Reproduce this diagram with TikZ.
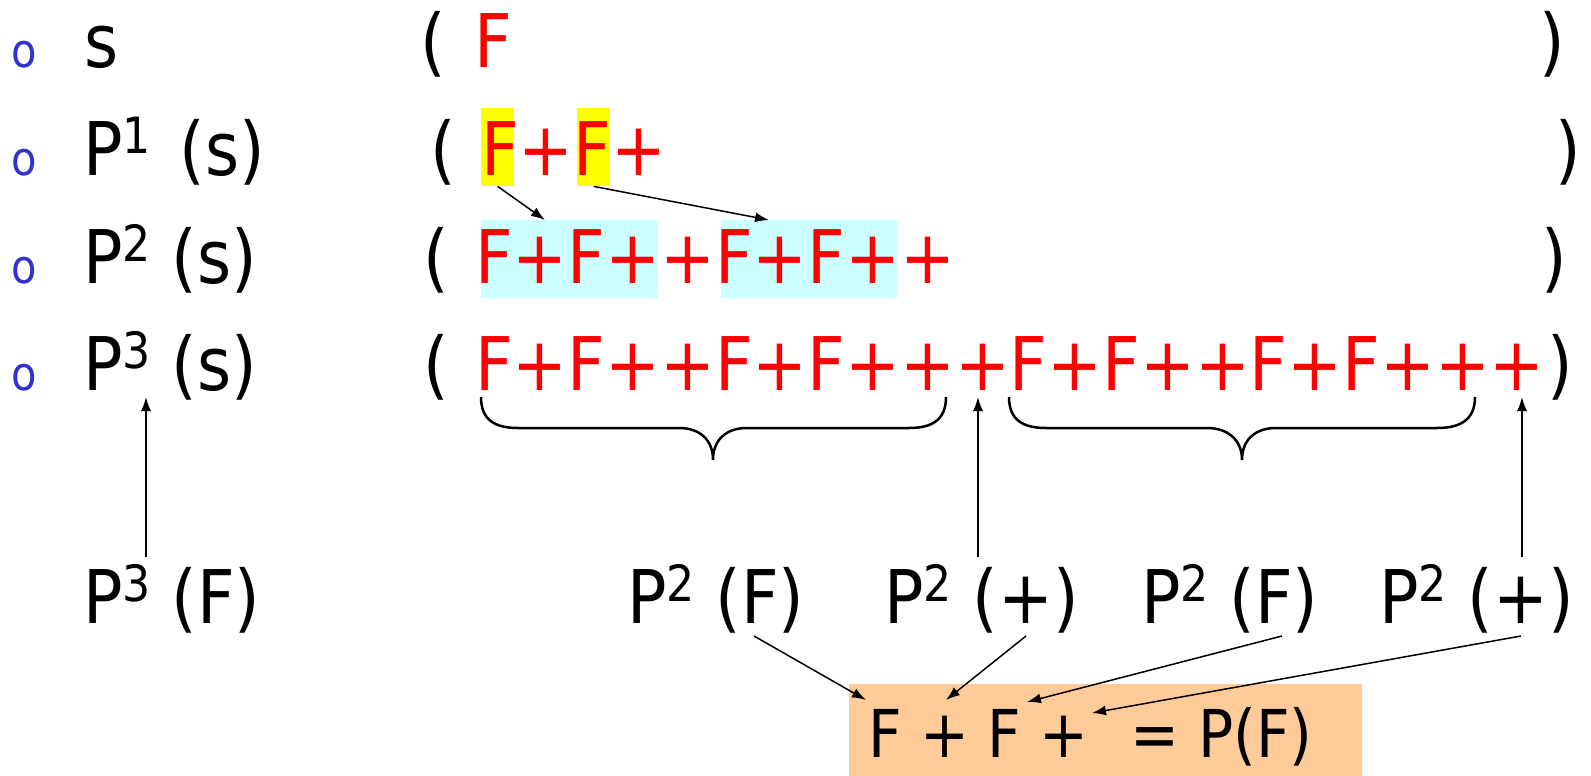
\documentclass[tikz,border=0pt]{standalone}
\usepackage{fontspec}
\setmainfont{DejaVu Sans}[FakeStretch=0.885]
\usetikzlibrary{arrows.meta}
\definecolor{bulletblue}{RGB}{51,51,204}
\definecolor{hlyellow}{RGB}{255,255,0}
\definecolor{hlcyan}{RGB}{204,255,255}
\definecolor{boxorange}{RGB}{255,204,153}
\definecolor{strred}{RGB}{255,0,0}
\newcommand\supnum[1]{\raisebox{22pt}{\fontsize{50}{50}\selectfont #1}}
\begin{document}
\begin{tikzpicture}[x=1pt,y=-1pt,
  txt/.style={inner sep=0pt, anchor=base west, font=\fontsize{74}{80}\selectfont},
  redtxt/.style={txt, text=strred},
  bul/.style={inner sep=0pt, anchor=base west, text=bulletblue, font=\fontsize{47}{47}\selectfont},
  hl/.style={inner sep=0pt, draw=none, anchor=north west},
  arr/.style={-{Latex[length=14pt,width=10pt]}, line width=1.5pt},
  brace/.style={line width=2.5pt}
]
\useasboundingbox (0,0) rectangle (1591,776);
% highlights
\node[hl, fill=hlyellow, minimum width=33pt, minimum height=78pt] (y1) at (481,108) {};
\node[hl, fill=hlyellow, minimum width=33pt, minimum height=78pt] (y2) at (577,108) {};
\node[hl, fill=hlcyan, minimum width=177pt, minimum height=78pt] (c1) at (481,220) {};
\node[hl, fill=hlcyan, minimum width=176pt, minimum height=78pt] (c2) at (721,220) {};
\node[hl, fill=boxorange, minimum width=513pt, minimum height=92pt] (box) at (849,684) {};
% bullets
\node[bul] (o1) at (11,68) {o};
\node[bul] (o2) at (11,175) {o};
\node[bul] (o3) at (11,283) {o};
\node[bul] (o4) at (11,390) {o};
% row labels
\node[txt] (l1) at (84,68) {s};
\node[txt] (l2) at (83,175) {P\supnum{1}\hspace{8pt} (s)};
\node[txt] (l3) at (83,283) {P\supnum{2} (s)};
\node[txt] (l4) at (83,390) {P\supnum{3} (s)};
% parentheses
\node[txt] (op1) at (420,68) {(};
\node[txt] (op2) at (430,175) {(};
\node[txt] (op3) at (423,283) {(};
\node[txt] (op4) at (423,390) {(};
\node[txt] (cp1) at (1539,68) {)};
\node[txt] (cp2) at (1555,175) {)};
\node[txt] (cp3) at (1541,283) {)};
\node[txt] (cp4) at (1547,390) {)};
% strings
\node[redtxt] (s1) at (474,68) {F};
\node[redtxt] (s2) at (481,175) {F+F+};
\node[redtxt] (s3) at (475,283) {F+F++F+F++};
\node[redtxt] (s4) at (475,390) {F+F++F+F+++F+F++F+F+++};
% bottom labels
\node[txt] (b1) at (83,623) {P\supnum{3} (F)};
\node[txt] (b2) at (627,623) {P\supnum{2} (F)};
\node[txt] (b3) at (884,623) {P\supnum{2} (+)};
\node[txt] (b4) at (1141,623) {P\supnum{2} (F)};
\node[txt] (b5) at (1379,623) {P\supnum{2} (+)};
\node[inner sep=0pt, anchor=base west, font=\fontsize{66}{72}\selectfont] (bt) at (868,757) {F + F +\hspace{23pt} = P(F)};
% braces
\draw[brace] (481,397) .. controls (481,420) and (495,428) .. (518,428) -- (679,428)
  .. controls (700,428) and (713,440) .. (713,460)
  .. controls (713,440) and (726,428) .. (747,428) -- (909,428)
  .. controls (932,428) and (946,420) .. (946,397);
\draw[brace] (1009,397) .. controls (1009,420) and (1023,428) .. (1046,428) -- (1207,428)
  .. controls (1228,428) and (1242,440) .. (1242,460)
  .. controls (1242,440) and (1255,428) .. (1276,428) -- (1437,428)
  .. controls (1460,428) and (1475,420) .. (1475,397);
% coordinates
\coordinate (c1t) at (545,220);
\coordinate (c2t) at (769,220);
\coordinate (u1a) at (146,557); \coordinate (u1b) at (146,397);
\coordinate (u2a) at (978,557); \coordinate (u2b) at (978,397);
\coordinate (u3a) at (1522,557); \coordinate (u3b) at (1522,397);
\coordinate (d1a) at (754,636); \coordinate (d1b) at (866,700);
\coordinate (d2a) at (1026,636); \coordinate (d2b) at (946,700);
\coordinate (d3a) at (1282,636); \coordinate (d3b) at (1027,702);
\coordinate (d4a) at (1521,636); \coordinate (d4b) at (1092,713);
% arrows
\draw[arr] (y1.south) -- (c1t);
\draw[arr] (y2.south) -- (c2t);
\draw[arr] (u1a) -- (u1b);
\draw[arr] (u2a) -- (u2b);
\draw[arr] (u3a) -- (u3b);
\draw[arr] (d1a) -- (d1b);
\draw[arr] (d2a) -- (d2b);
\draw[arr] (d3a) -- (d3b);
\draw[arr] (d4a) -- (d4b);
\end{tikzpicture}
\end{document}
